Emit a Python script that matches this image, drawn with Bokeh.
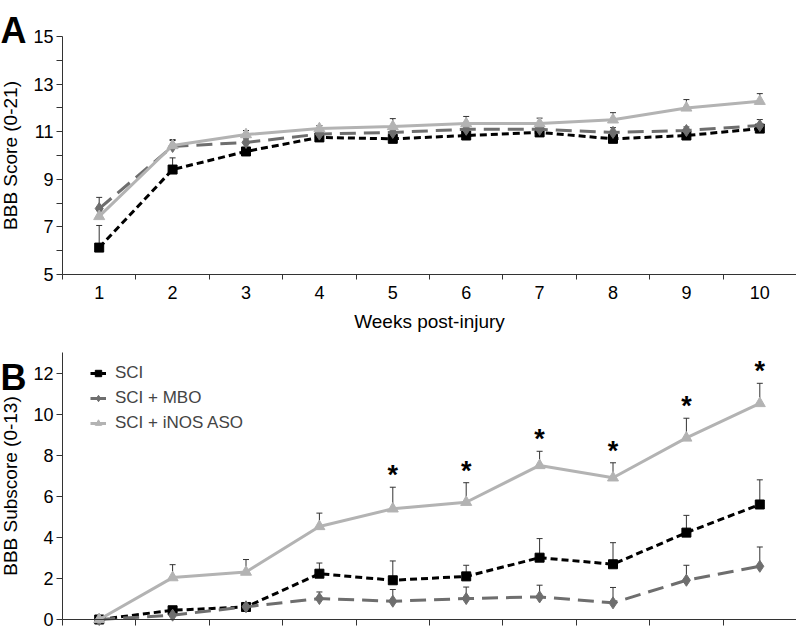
from bokeh.plotting import figure
from bokeh.layouts import column
from bokeh.models import (FixedTicker, Whisker, ColumnDataSource, Label, Range1d,
                          Legend, LegendItem, TeeHead)
from bokeh.core.properties import value
from bokeh.embed import file_html
from bokeh.resources import INLINE

# ---------------- data ----------------
weeks = [1, 2, 3, 4, 5, 6, 7, 8, 9, 10]

A_sci = [6.13, 9.41, 10.17, 10.76, 10.70, 10.84, 10.97, 10.70, 10.84, 11.13]
A_sci_err = [0.93, 0.49, 0.15, 0.12, 0.12, 0.12, 0.12, 0.12, 0.15, 0.17]
A_mbo = [7.77, 10.38, 10.55, 10.90, 10.97, 11.10, 11.10, 10.97, 11.05, 11.26]
A_mbo_err = [0.47, 0.25, 0.15, 0.15, 0.15, 0.15, 0.15, 0.20, 0.15, 0.25]
A_aso = [7.44, 10.42, 10.88, 11.13, 11.22, 11.34, 11.34, 11.50, 12.00, 12.28]
A_aso_err = [0.25, 0.25, 0.17, 0.13, 0.33, 0.30, 0.23, 0.30, 0.35, 0.32]

B_sci = [0, 0.45, 0.61, 2.23, 1.91, 2.10, 3.01, 2.69, 4.23, 5.60]
B_sci_err = [0, 0.15, 0.17, 0.52, 0.94, 0.54, 0.93, 1.05, 0.84, 1.20]
B_mbo = [0, 0.21, 0.62, 1.02, 0.89, 1.02, 1.10, 0.81, 1.91, 2.59]
B_mbo_err = [0, 0.0, 0.0, 0.32, 0.57, 0.56, 0.57, 0.75, 0.73, 0.94]
B_aso = [0, 2.04, 2.31, 4.53, 5.39, 5.71, 7.50, 6.90, 8.84, 10.52]
B_aso_err = [0, 0.63, 0.61, 0.65, 1.05, 0.95, 0.69, 0.73, 0.96, 0.98]

star_weeks = [5, 6, 7, 8, 9, 10]

labels = ["SCI", "SCI + MBO", "SCI + iNOS ASO"]
colors = ["#000000", "#6e6e6e", "#b3b3b3"]
dashes = ["7 4", "16 8", "solid"]
markers = ["square", "diamond", "triangle"]
msizes = [9, 12, 11]

A_ticks = [5, 7, 9, 11, 13, 15]
A_minor = [6, 8, 10, 12, 14]
B_ticks = [0, 2, 4, 6, 8, 10, 12]

FONT = "Liberation Sans"
AX = "#333333"

# ---------------- layout (pixels) ----------------
W = 796
LEFT = 62                  # y-axis position from the figure's left edge
XPX = (W - LEFT) / 10.0    # pixels per week
X0 = 0.5 - LEFT / XPX      # data x at the figure's left edge

HA = 345
A_TOP, A_BOT = 36, 274     # pixel rows of y=15 and y=5
APX = (A_BOT - A_TOP) / 10.0
HB = 281
B_TOP, B_BOT = 7, 274      # pixel rows of y=13 and y=0
BPX = (B_BOT - B_TOP) / 13.0


def style_axes(p, xloc):
    for ax in (p.xaxis[0], p.yaxis[0]):
        ax.axis_line_color = AX
        ax.axis_line_width = 1
        ax.major_tick_line_color = AX
        ax.minor_tick_line_color = AX
        ax.major_tick_in = 0
        ax.minor_tick_in = 0
        ax.major_label_text_font = FONT
        ax.major_label_text_font_size = "18px"
        ax.major_label_text_color = "#000000"
        ax.axis_label_text_font = FONT
        ax.axis_label_text_font_size = "19px"
        ax.axis_label_text_font_style = "normal"
        ax.axis_label_text_color = "#000000"
    p.xgrid.visible = False
    p.ygrid.visible = False
    p.outline_line_color = None
    p.yaxis[0].fixed_location = 0.5
    p.xaxis[0].fixed_location = xloc
    p.xaxis[0].bounds = (0.5, 10.5)


def add_series(p, ys, errs):
    rends = []
    for i in range(3):
        y = ys[i]
        e = errs[i]
        xs_e = [w for w, ee in zip(weeks, e) if ee > 0]
        lo_e = [v for v, ee in zip(y, e) if ee > 0]
        up_e = [v + ee for v, ee in zip(y, e) if ee > 0]
        src = ColumnDataSource(dict(x=xs_e, lo=lo_e, up=up_e))
        wk = Whisker(base="x", lower="lo", upper="up", source=src,
                     line_color=AX, line_width=1, level="underlay",
                     upper_head=TeeHead(size=6, line_color=AX, line_width=1),
                     lower_head=None)
        p.add_layout(wk)
    for i in range(3):
        lr = p.line(weeks, ys[i], line_color=colors[i], line_width=3,
                    line_dash=dashes[i])
        mr = p.scatter(weeks, ys[i], marker=markers[i], size=msizes[i],
                       fill_color=colors[i], line_color=colors[i])
        rends.append((lr, mr))
    return rends


# ---------------- panel A ----------------
pA = figure(width=W, height=HA, output_backend="svg", toolbar_location=None,
            x_range=Range1d(X0, 10.5),
            y_range=Range1d(5 - (HA - A_BOT) / APX, 15 + A_TOP / APX),
            min_border_left=0, min_border_right=0, min_border_top=0,
            min_border_bottom=0)
style_axes(pA, 5)
pA.yaxis[0].bounds = (5, 15)
pA.yaxis[0].ticker = FixedTicker(ticks=A_ticks, minor_ticks=A_minor)
pA.yaxis[0].major_tick_out = 6
pA.yaxis[0].minor_tick_out = 6
pA.yaxis[0].major_label_standoff = 3
pA.yaxis[0].axis_label = "BBB Score (0-21)"
pA.yaxis[0].axis_label_standoff = 9
pA.xaxis[0].ticker = FixedTicker(ticks=weeks,
                                 minor_ticks=[w + 0.5 for w in [0] + weeks])
pA.xaxis[0].major_tick_out = 0
pA.xaxis[0].minor_tick_out = 5
pA.xaxis[0].major_label_standoff = 6
pA.xaxis[0].axis_label = "Weeks post-injury"
pA.xaxis[0].axis_label_standoff = 9

add_series(pA, [A_sci, A_mbo, A_aso], [A_sci_err, A_mbo_err, A_aso_err])

pA.add_layout(Label(x=X0, y=15 + (A_TOP - 30) / APX, text="A",
                    text_font=FONT, text_font_style="bold",
                    text_font_size="36px", text_color="#000000",
                    text_baseline="alphabetic", text_align="left"))

# ---------------- panel B ----------------
pB = figure(width=W, height=HB, output_backend="svg", toolbar_location=None,
            x_range=Range1d(X0, 10.5),
            y_range=Range1d(0 - (HB - B_BOT) / BPX, 13 + B_TOP / BPX),
            min_border_left=0, min_border_right=0, min_border_top=0,
            min_border_bottom=0)
style_axes(pB, 0)
pB.yaxis[0].bounds = (0, 13)
pB.yaxis[0].ticker = FixedTicker(ticks=B_ticks)
pB.yaxis[0].major_tick_out = 6
pB.yaxis[0].major_label_standoff = 3
pB.yaxis[0].axis_label = "BBB Subscore (0-13)"
pB.yaxis[0].axis_label_standoff = 9
pB.xaxis[0].ticker = FixedTicker(ticks=[],
                                 minor_ticks=[w + 0.5 for w in [0] + weeks])
pB.xaxis[0].major_tick_out = 0
pB.xaxis[0].minor_tick_out = 6

rB = add_series(pB, [B_sci, B_mbo, B_aso], [B_sci_err, B_mbo_err, B_aso_err])

star_y = [B_aso[weeks.index(w)] + B_aso_err[weeks.index(w)] for w in star_weeks]
pB.text(x=star_weeks, y=star_y, text=["*"] * len(star_weeks),
        text_font=value(FONT), text_font_style="bold", text_font_size="27px",
        text_align="center", text_baseline="alphabetic", y_offset=-12,
        text_color="#000000")

legend = Legend(items=[LegendItem(label=labels[i], renderers=list(rB[i]))
                       for i in range(3)],
                location=(LEFT + 28, 193), padding=0, margin=0, spacing=5,
                label_height=20, glyph_height=20, glyph_width=16,
                label_standoff=9, label_text_font=FONT,
                label_text_font_size="17px", border_line_color=None,
                background_fill_alpha=0)
pB.add_layout(legend)

pB.add_layout(Label(x=X0, y=13 - (32 - B_TOP) / BPX, text="B",
                    text_font=FONT, text_font_style="bold",
                    text_font_size="36px", text_color="#000000",
                    text_baseline="alphabetic", text_align="left"))

layout = column(pA, pB, spacing=0)
open("out.html", "w").write(file_html(layout, INLINE))
